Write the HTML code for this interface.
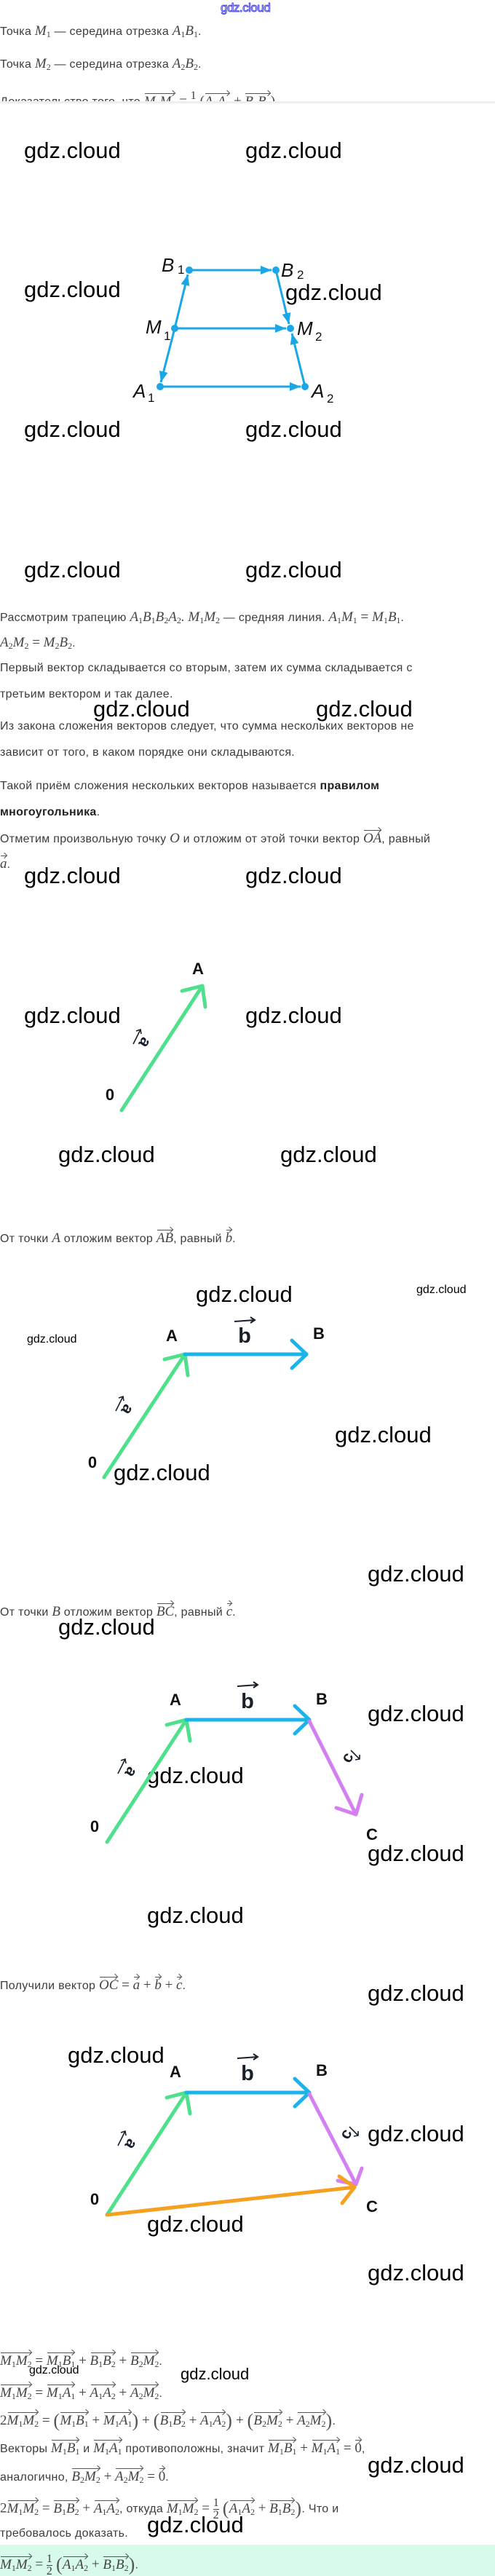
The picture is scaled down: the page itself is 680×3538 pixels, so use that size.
<!DOCTYPE html>
<html><head><meta charset="utf-8"><style>
html,body{margin:0;padding:0;background:#fff}
body{width:680px;height:3538px;position:relative;overflow:hidden;font-family:"Liberation Sans",sans-serif}
.t{position:absolute;left:0;white-space:nowrap;font-size:16px;line-height:20px;color:#3c3c3c;letter-spacing:0.3px}
.m{font-family:"Liberation Serif",serif;font-style:italic;font-size:19px;color:#444;letter-spacing:0}
.n{font-family:"Liberation Serif",serif;font-size:19px;color:#444;letter-spacing:0}
sub{font-size:12px;font-style:normal;vertical-align:-3px;line-height:0}
.v{position:relative;display:inline-block;line-height:20px}
.v::before{content:"";position:absolute;left:1px;right:1px;top:-2px;border-top:1px solid #555}
.v::after{content:"";position:absolute;right:1px;top:-5px;width:5px;height:5px;border-top:1px solid #555;border-right:1px solid #555;transform:rotate(45deg)}
.fr{display:inline-block;vertical-align:middle;text-align:center;font-family:"Liberation Serif",serif;font-size:16px;line-height:16px;font-style:normal}
.fr span{display:block}
.fr span:first-child{border-bottom:1px solid #444}
.w{position:absolute;font-family:"Liberation Sans",sans-serif;font-size:31px;line-height:36px;color:#000;white-space:nowrap}
.ws{position:absolute;font-family:"Liberation Sans",sans-serif;font-size:16px;line-height:20px;color:#000;white-space:nowrap}
.p{font-family:"Liberation Serif",serif;font-size:26px;font-style:normal;vertical-align:-3px;color:#555}
</style></head><body>

<div style="position:absolute;left:303px;top:1px;font-size:17px;color:#fff;-webkit-text-stroke:1px #4646e6;letter-spacing:-0.5px">gdz.cloud</div>

<div style="position:absolute;left:0;top:0;width:680px;height:139px;overflow:hidden">
<div class="t" style="top:33px">Точка <span class="m">M<sub>1</sub></span> — середина отрезка <span class="m">A<sub>1</sub>B<sub>1</sub></span>.</div>
<div class="t" style="top:78px">Точка <span class="m">M<sub>2</sub></span> — середина отрезка <span class="m">A<sub>2</sub>B<sub>2</sub></span>.</div>
<div class="t" style="top:124px">Доказательство того, что <span class="m v">M<sub>1</sub>M<sub>2</sub></span> <span class="n">=</span> <span class="fr"><span>1</span><span>2</span></span> <span class="n">(</span><span class="m v">A<sub>1</sub>A<sub>2</sub></span> <span class="n">+</span> <span class="m v">B<sub>1</sub>B<sub>2</sub></span><span class="n">)</span></div>
</div>
<div style="position:absolute;left:0;top:139px;width:680px;height:3px;background:#eeeeee"></div>

<div class="w" style="left:33px;top:189px">gdz.cloud</div>
<div class="w" style="left:337px;top:189px">gdz.cloud</div>
<div class="w" style="left:33px;top:380px">gdz.cloud</div>
<div class="w" style="left:392px;top:384px">gdz.cloud</div>
<div class="w" style="left:33px;top:572px">gdz.cloud</div>
<div class="w" style="left:337px;top:572px">gdz.cloud</div>
<div class="w" style="left:33px;top:765px">gdz.cloud</div>
<div class="w" style="left:337px;top:765px">gdz.cloud</div>
<div class="w" style="left:128px;top:956px">gdz.cloud</div>
<div class="w" style="left:434px;top:956px">gdz.cloud</div>
<div class="w" style="left:33px;top:1185px">gdz.cloud</div>
<div class="w" style="left:337px;top:1185px">gdz.cloud</div>
<div class="w" style="left:33px;top:1377px">gdz.cloud</div>
<div class="w" style="left:337px;top:1377px">gdz.cloud</div>
<div class="w" style="left:80px;top:1568px">gdz.cloud</div>
<div class="w" style="left:385px;top:1568px">gdz.cloud</div>
<div class="w" style="left:269px;top:1760px">gdz.cloud</div>
<div class="w" style="left:460px;top:1953px">gdz.cloud</div>
<div class="w" style="left:156px;top:2005px">gdz.cloud</div>
<div class="w" style="left:505px;top:2144px">gdz.cloud</div>
<div class="w" style="left:80px;top:2217px">gdz.cloud</div>
<div class="w" style="left:505px;top:2336px">gdz.cloud</div>
<div class="w" style="left:202px;top:2421px">gdz.cloud</div>
<div class="w" style="left:505px;top:2528px">gdz.cloud</div>
<div class="w" style="left:202px;top:2613px">gdz.cloud</div>
<div class="w" style="left:505px;top:2720px">gdz.cloud</div>
<div class="w" style="left:93px;top:2805px">gdz.cloud</div>
<div class="w" style="left:505px;top:2913px">gdz.cloud</div>
<div class="w" style="left:202px;top:3037px">gdz.cloud</div>
<div class="w" style="left:505px;top:3104px">gdz.cloud</div>
<div class="w" style="left:505px;top:3368px">gdz.cloud</div>
<div class="w" style="left:202px;top:3450px">gdz.cloud</div>
<div class="ws" style="left:572px;top:1762px">gdz.cloud</div>
<div class="ws" style="left:37px;top:1830px">gdz.cloud</div>
<div class="ws" style="left:40px;top:3246px">gdz.cloud</div>
<div class="w" style="left:248px;top:3248px;font-size:22px;line-height:26px">gdz.cloud</div>

<div class="t" style="top:838px">Рассмотрим трапецию <span class="m">A<sub>1</sub>B<sub>1</sub>B<sub>2</sub>A<sub>2</sub>. M<sub>1</sub>M<sub>2</sub></span> — средняя линия. <span class="m">A<sub>1</sub>M<sub>1</sub></span> <span class="n">=</span> <span class="m">M<sub>1</sub>B<sub>1</sub></span>.</div>
<div class="t" style="top:873px"><span class="m">A<sub>2</sub>M<sub>2</sub></span> <span class="n">=</span> <span class="m">M<sub>2</sub>B<sub>2</sub></span>.</div>
<div class="t" style="top:908px">Первый вектор складывается со вторым, затем их сумма складывается с</div>
<div class="t" style="top:944px">третьим вектором и так далее.</div>
<div class="t" style="top:988px">Из закона сложения векторов следует, что сумма нескольких векторов не</div>
<div class="t" style="top:1024px">зависит от того, в каком порядке они складываются.</div>
<div class="t" style="top:1070px">Такой приём сложения нескольких векторов называется <b style="color:#222">правилом</b></div>
<div class="t" style="top:1106px"><b style="color:#222">многоугольника</b>.</div>
<div class="t" style="top:1142px">Отметим произвольную точку <span class="m">O</span> и отложим от этой точки вектор <span class="m v">OA</span>, равный</div>
<div class="t" style="top:1177px"><span class="m v">a</span>.</div>
<div class="t" style="top:1691px">От точки <span class="m">A</span> отложим вектор <span class="m v">AB</span>, равный <span class="m v">b</span>.</div>
<div class="t" style="top:2204px">От точки <span class="m">B</span> отложим вектор <span class="m v">BC</span>, равный <span class="m v">c</span>.</div>
<div class="t" style="top:2717px">Получили вектор <span class="m v">OC</span> <span class="n">=</span> <span class="m v">a</span> <span class="n">+</span> <span class="m v">b</span> <span class="n">+</span> <span class="m v">c</span>.</div>

<div class="t" style="top:3233px"><span class="m v">M<sub>1</sub>M<sub>2</sub></span> <span class="n">=</span> <span class="m v">M<sub>1</sub>B<sub>1</sub></span> <span class="n">+</span> <span class="m v">B<sub>1</sub>B<sub>2</sub></span> <span class="n">+</span> <span class="m v">B<sub>2</sub>M<sub>2</sub></span>.</div>
<div class="t" style="top:3277px"><span class="m v">M<sub>1</sub>M<sub>2</sub></span> <span class="n">=</span> <span class="m v">M<sub>1</sub>A<sub>1</sub></span> <span class="n">+</span> <span class="m v">A<sub>1</sub>A<sub>2</sub></span> <span class="n">+</span> <span class="m v">A<sub>2</sub>M<sub>2</sub></span>.</div>
<div class="t" style="top:3315px"><span class="n">2</span><span class="m v">M<sub>1</sub>M<sub>2</sub></span> <span class="n">=</span> <span class="p">(</span><span class="m v">M<sub>1</sub>B<sub>1</sub></span> <span class="n">+</span> <span class="m v">M<sub>1</sub>A<sub>1</sub></span><span class="p">)</span> <span class="n">+</span> <span class="p">(</span><span class="m v">B<sub>1</sub>B<sub>2</sub></span> <span class="n">+</span> <span class="m v">A<sub>1</sub>A<sub>2</sub></span><span class="p">)</span> <span class="n">+</span> <span class="p">(</span><span class="m v">B<sub>2</sub>M<sub>2</sub></span> <span class="n">+</span> <span class="m v">A<sub>2</sub>M<sub>2</sub></span><span class="p">)</span>.</div>
<div class="t" style="top:3353px">Векторы <span class="m v">M<sub>1</sub>B<sub>1</sub></span> и <span class="m v">M<sub>1</sub>A<sub>1</sub></span> противоположны, значит <span class="m v">M<sub>1</sub>B<sub>1</sub></span> <span class="n">+</span> <span class="m v">M<sub>1</sub>A<sub>1</sub></span> <span class="n">=</span> <span class="n v">0</span>,</div>
<div class="t" style="top:3392px">аналогично, <span class="m v">B<sub>2</sub>M<sub>2</sub></span> <span class="n">+</span> <span class="m v">A<sub>2</sub>M<sub>2</sub></span> <span class="n">=</span> <span class="n v">0</span>.</div>
<div class="t" style="top:3430px"><span class="n">2</span><span class="m v">M<sub>1</sub>M<sub>2</sub></span> <span class="n">=</span> <span class="m v">B<sub>1</sub>B<sub>2</sub></span> <span class="n">+</span> <span class="m v">A<sub>1</sub>A<sub>2</sub></span>, откуда <span class="m v">M<sub>1</sub>M<sub>2</sub></span> <span class="n">=</span> <span class="fr"><span>1</span><span>2</span></span> <span class="p">(</span><span class="m v">A<sub>1</sub>A<sub>2</sub></span> <span class="n">+</span> <span class="m v">B<sub>1</sub>B<sub>2</sub></span><span class="p">)</span>. Что и</div>
<div class="t" style="top:3470px">требовалось доказать.</div>
<div style="position:absolute;left:0;top:3495px;width:680px;height:43px;background:#d8faea;overflow:hidden">
<div class="t" style="top:12px"><span class="m v">M<sub>1</sub>M<sub>2</sub></span> <span class="n">=</span> <span class="fr"><span>1</span><span>2</span></span> <span class="p">(</span><span class="m v">A<sub>1</sub>A<sub>2</sub></span> <span class="n">+</span> <span class="m v">B<sub>1</sub>B<sub>2</sub></span><span class="p">)</span>.</div>
</div>

<svg width="680" height="3538" style="position:absolute;left:0;top:0" xmlns="http://www.w3.org/2000/svg">
<defs>
<marker id="tri" viewBox="0 0 10 10" refX="10" refY="5" markerWidth="5" markerHeight="5" orient="auto" markerUnits="strokeWidth">
<path d="M0,1 L10,5 L0,9 Z" fill="#1ba6e6"/></marker>
</defs>
<g stroke="#1ba6e6" stroke-width="3" fill="none">
<line x1="260" y1="371" x2="373" y2="371" marker-end="url(#tri)"/>
<line x1="240" y1="451" x2="258" y2="377" marker-end="url(#tri)"/>
<line x1="240" y1="451" x2="221" y2="525" marker-end="url(#tri)"/>
<line x1="379" y1="371" x2="397" y2="445" marker-end="url(#tri)"/>
<line x1="419" y1="531" x2="401" y2="458" marker-end="url(#tri)"/>
<line x1="240" y1="451" x2="393" y2="451" marker-end="url(#tri)"/>
<line x1="220" y1="531" x2="413" y2="531" marker-end="url(#tri)"/>
</g>
<g fill="#1ba6e6">
<circle cx="260" cy="371" r="5"/><circle cx="379" cy="371" r="5"/>
<circle cx="240" cy="451" r="5"/><circle cx="399" cy="451" r="5"/>
<circle cx="220" cy="531" r="5"/><circle cx="419" cy="531" r="5"/>
</g>
<g font-family="Liberation Sans, sans-serif" font-style="italic" font-size="26" fill="#111">
<text x="222" y="373">B</text><text x="244" y="376" font-size="17" font-style="normal">1</text>
<text x="386" y="380">B</text><text x="408" y="383" font-size="17" font-style="normal">2</text>
<text x="200" y="458">M</text><text x="225" y="467" font-size="17" font-style="normal">1</text>
<text x="408" y="460">M</text><text x="433" y="468" font-size="17" font-style="normal">2</text>
<text x="183" y="546">A</text><text x="203" y="552" font-size="17" font-style="normal">1</text>
<text x="428" y="546">A</text><text x="449" y="553" font-size="17" font-style="normal">2</text>
</g>

<g stroke-linecap="round" stroke-linejoin="round" fill="none" stroke-width="5">
<path d="M167,1525 L278,1354" stroke="#4ee08c"/>
<path d="M250,1361 L278,1354 L282,1383" stroke="#4ee08c"/>
<path d="M143,2029 L254,1860" stroke="#4ee08c"/>
<path d="M226,1867 L254,1860 L258,1889" stroke="#4ee08c"/>
<path d="M254,1860 L421,1860" stroke="#1bb4ea"/>
<path d="M401,1841 L421,1860 L401,1879" stroke="#1bb4ea"/>
<path d="M147,2530 L256,2362" stroke="#4ee08c"/>
<path d="M229,2369 L256,2362 L261,2391" stroke="#4ee08c"/>
<path d="M256,2362 L425,2362" stroke="#1bb4ea"/>
<path d="M405,2343 L425,2362 L405,2381" stroke="#1bb4ea"/>
<path d="M425,2364 L489,2492" stroke="#d580f2"/>
<path d="M462,2483 L489,2492 L497,2465" stroke="#d580f2"/>
<path d="M147,3042 L256,2874" stroke="#4ee08c"/>
<path d="M229,2881 L256,2874 L261,2903" stroke="#4ee08c"/>
<path d="M256,2874 L425,2874" stroke="#1bb4ea"/>
<path d="M405,2855 L425,2874 L405,2893" stroke="#1bb4ea"/>
<path d="M425,2876 L489,3000" stroke="#d580f2"/>
<path d="M464,2995 L489,3000 L497,2978" stroke="#d580f2"/>
<path d="M147,3042 L487,3004" stroke="#f5a020"/>
<path d="M466,2989 L487,3004 L470,3026" stroke="#f5a020"/>
</g>

<g font-family="Liberation Sans Narrow, Liberation Sans, sans-serif" font-weight="bold" font-size="22" fill="#111" text-anchor="middle">
<text x="272" y="1338">A</text><text x="151" y="1511">0</text>
<text x="236" y="1842">A</text><text x="438" y="1839">B</text><text x="127" y="2016">0</text>
<text x="241" y="2342">A</text><text x="442" y="2341">B</text><text x="511" y="2527">C</text><text x="130" y="2516">0</text>
<text x="241" y="2853">A</text><text x="442" y="2851">B</text><text x="511" y="3038">C</text><text x="130" y="3028">0</text>
</g>

<g font-family="Liberation Sans, sans-serif" font-size="29" font-weight="bold" fill="#17202b" text-anchor="middle">
<text x="336" y="1844">b</text><text x="340" y="2346">b</text><text x="340" y="2857">b</text>
</g>
<g stroke="#17202b" stroke-width="2" fill="none">
<path d="M322,1815 L350,1813 M344,1809 L350,1813 L344,1817"/>
<path d="M326,2316 L354,2314 M348,2310 L354,2314 L348,2318"/>
<path d="M326,2827 L354,2825 M348,2821 L354,2825 L348,2829"/>
</g>

<g font-family="Liberation Sans, sans-serif" font-weight="bold" font-size="22" fill="#17202b">
<text transform="translate(199,1432) rotate(123)" text-anchor="middle" y="7">a</text>
<text transform="translate(175,1936) rotate(123)" text-anchor="middle" y="7">a</text>
<text transform="translate(180,2434) rotate(123)" text-anchor="middle" y="7">a</text>
<text transform="translate(180,2945) rotate(123)" text-anchor="middle" y="7">a</text>
<text transform="translate(477,2414) rotate(-63)" text-anchor="middle" y="7">c</text>
<text transform="translate(475,2931) rotate(-63)" text-anchor="middle" y="7">c</text>
</g>
<g stroke="#17202b" stroke-width="1.6" fill="none">
<path d="M183,1434 L193,1414 M187,1416 L193,1414 L194,1420"/>
<path d="M159,1938 L169,1918 M163,1920 L169,1918 L170,1924"/>
<path d="M162,2436 L172,2416 M166,2418 L172,2416 L173,2422"/>
<path d="M162,2947 L172,2927 M166,2929 L172,2927 L173,2933"/>
<path d="M482,2404 L494,2416 M488,2417 L494,2416 L494,2410"/>
<path d="M480,2921 L492,2933 M486,2934 L492,2933 L492,2927"/>
</g>
</svg>
</body></html>
